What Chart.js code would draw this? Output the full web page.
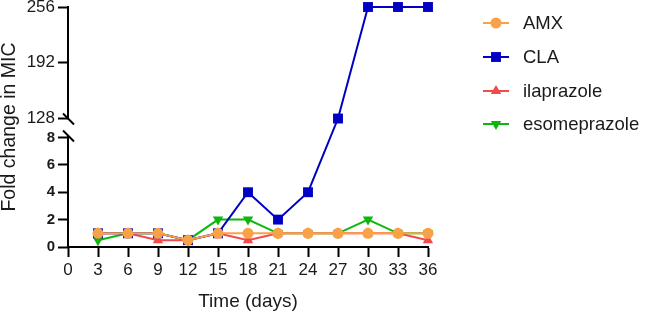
<!DOCTYPE html>
<html>
<head>
<meta charset="utf-8">
<script src="https://cdn.jsdelivr.net/npm/chart.js@4.4.0/dist/chart.umd.min.js"></script>
<style>
html,body{margin:0;padding:0;background:#fff;}
#wrap{width:647px;height:315px;position:relative;}
</style>
</head>
<body>
<div id="wrap"><canvas id="c" width="647" height="315"></canvas></div>
<script>
const days = [3, 6, 9, 12, 15, 18, 21, 24, 27, 30, 33, 36];
const amx = [1, 1, 1, 0.5, 1, 1, 1, 1, 1, 1, 1, 1];
const cla = [1, 1, 1, 0.5, 1, 4, 2, 4, 128, 256, 256, 256];
const ila = [1, 1, 0.5, 0.5, 1, 0.5, 1, 1, 1, 1, 1, 0.5];
const eso = [0.5, 1, 1, 0.5, 2, 2, 1, 1, 1, 2, 1, 1];
const seriesNames = ['AMX', 'CLA', 'ilaprazole', 'esomeprazole'];
const yTicks = [0, 2, 4, 6, 8, 128, 192, 256];
const xTicks = [0, 3, 6, 9, 12, 15, 18, 21, 24, 27, 30, 33, 36];
const lowMax = 8, highMin = 128, highMax = 256;

const FONT = "'Liberation Sans', Arial, Helvetica, sans-serif";
const colors = ['#F9A146', '#0000C4', '#F24A4A', '#0DB80D'];
const styles = [
  {pointStyle: 'circle', radius: 5.5, rotation: 0},
  {pointStyle: 'rect', radius: 7, rotation: 0},
  {pointStyle: 'triangle', radius: 6, rotation: 0},
  {pointStyle: 'triangle', radius: 6, rotation: 180}
];

// fractions of axis height: lower segment, gap, upper segment
const LOW_F = 110 / 241, GAP_F = 19 / 241, UP_F = 112 / 241;

class BrokenScale extends Chart.LinearScale {
  buildTicks() {
    this.start = 0; this.end = highMax;
    return yTicks.map(v => ({value: v}));
  }
  getPixelForValue(v) {
    const H = this.bottom - this.top;
    const pLowTop = this.bottom - H * LOW_F;
    const pHighBot = this.top + H * UP_F;
    if (v <= lowMax) return this.bottom - (v / lowMax) * H * LOW_F;
    if (v >= highMin) return this.top + (highMax - v) / (highMax - highMin) * H * UP_F;
    const t = (v - lowMax) / (highMin - lowMax);
    return pLowTop + (pHighBot - pLowTop) * t;
  }
  getValueForPixel(p) {
    const H = this.bottom - this.top;
    const pLowTop = this.bottom - H * LOW_F;
    const pHighBot = this.top + H * UP_F;
    if (p >= pLowTop) return (this.bottom - p) / (H * LOW_F) * lowMax;
    if (p <= pHighBot) return highMax - (p - this.top) / (H * UP_F) * (highMax - highMin);
    const t = (pLowTop - p) / (pLowTop - pHighBot);
    return lowMax + t * (highMin - lowMax);
  }
}
BrokenScale.id = 'broken';
BrokenScale.defaults = Chart.LinearScale.defaults;
Chart.register(BrokenScale);

const datasets = [amx, cla, ila, eso].map((arr, i) => ({
  label: seriesNames[i],
  data: days.map((d, j) => ({x: d, y: arr[j]})),
  borderColor: colors[i],
  backgroundColor: colors[i],
  borderWidth: 2,
  pointStyle: styles[i].pointStyle,
  pointRadius: styles[i].radius,
  pointRotation: styles[i].rotation,
  pointBorderWidth: 0,
  pointHoverRadius: styles[i].radius,
  clip: false,
  tension: 0
}));

const axisPlugin = {
  id: 'brokenAxis',
  afterDraw(chart) {
    const ctx = chart.ctx;
    const y = chart.scales.y;
    const x0 = chart.chartArea.left;
    const pTop = y.getPixelForValue(highMax);
    const pHB = y.getPixelForValue(highMin);
    const pLT = y.getPixelForValue(lowMax);
    const pBot = y.getPixelForValue(0);
    ctx.save();
    ctx.strokeStyle = '#000';
    ctx.lineWidth = 2;
    ctx.lineCap = 'butt';
    ctx.beginPath();
    ctx.moveTo(x0, pTop - 1);
    ctx.lineTo(x0, pHB);
    ctx.moveTo(x0, pLT - 2);
    ctx.lineTo(x0, pBot + 1);
    ctx.stroke();
    // break marks
    ctx.beginPath();
    ctx.moveTo(x0 - 5, pHB - 5);
    ctx.lineTo(x0 + 6, pHB + 6);
    ctx.moveTo(x0 - 5, pLT - 7);
    ctx.lineTo(x0 + 6, pLT + 4);
    ctx.stroke();
    ctx.restore();

    // legend
    const rows = [23, 57, 91, 124];
    ctx.save();
    ctx.font = '18.5px ' + FONT;
    ctx.textBaseline = 'middle';
    ctx.textAlign = 'left';
    rows.forEach((ry, i) => {
      ctx.strokeStyle = colors[i];
      ctx.lineWidth = 2;
      ctx.beginPath();
      ctx.moveTo(483, ry);
      ctx.lineTo(509, ry);
      ctx.stroke();
      ctx.fillStyle = colors[i];
      Chart.helpers.drawPoint(ctx, {
        pointStyle: styles[i].pointStyle,
        radius: styles[i].radius,
        rotation: styles[i].rotation,
        borderWidth: 0
      }, 496, ry);
      ctx.fillStyle = '#1a1a1a';
      ctx.fillText(seriesNames[i], 523, ry + 1);
    });
    ctx.restore();
  }
};

new Chart(document.getElementById('c'), {
  type: 'line',
  data: {datasets},
  options: {
    responsive: false,
    animation: false,
    events: [],
    layout: {padding: {left: 0, top: 6, right: 219, bottom: 0}},
    plugins: {legend: {display: false}, tooltip: {enabled: false}},
    scales: {
      x: {
        type: 'linear',
        min: 0, max: 36,
        afterBuildTicks: s => { s.ticks = xTicks.map(v => ({value: v})); },
        afterFit: s => { s.height = 68; s.paddingLeft = 0; s.paddingRight = 0; },
        border: {display: true, color: '#000', width: 2},
        grid: {display: true, drawOnChartArea: false, drawTicks: true, tickLength: 10, tickWidth: 2, tickColor: '#000', color: '#000'},
        ticks: {autoSkip: false, maxRotation: 0, padding: 3, color: '#1a1a1a', font: {family: FONT, size: 17}},
        title: {display: true, text: 'Time (days)', color: '#1a1a1a', font: {family: FONT, size: 19}, padding: {top: 0, bottom: 2}}
      },
      y: {
        type: 'broken',
        min: 0, max: highMax,
        afterFit: s => { s.width = 68; s.paddingTop = 0; s.paddingBottom = 0; },
        border: {display: false},
        grid: {display: true, drawOnChartArea: false, drawTicks: true, tickLength: 10, tickWidth: 2, tickColor: '#000', color: '#000'},
        ticks: {
          autoSkip: false, padding: 3, color: '#1a1a1a',
          callback: v => String(v),
          font: c => (c.tick && c.tick.value <= lowMax)
            ? {family: FONT, size: 15, weight: 'bold'}
            : {family: FONT, size: 17}
        },
        title: {display: true, text: 'Fold change in MIC', color: '#1a1a1a', font: {family: FONT, size: 19.5, lineHeight: 1}, padding: {top: 0, bottom: 0}}
      }
    }
  },
  plugins: [axisPlugin]
});
</script>
</body>
</html>
